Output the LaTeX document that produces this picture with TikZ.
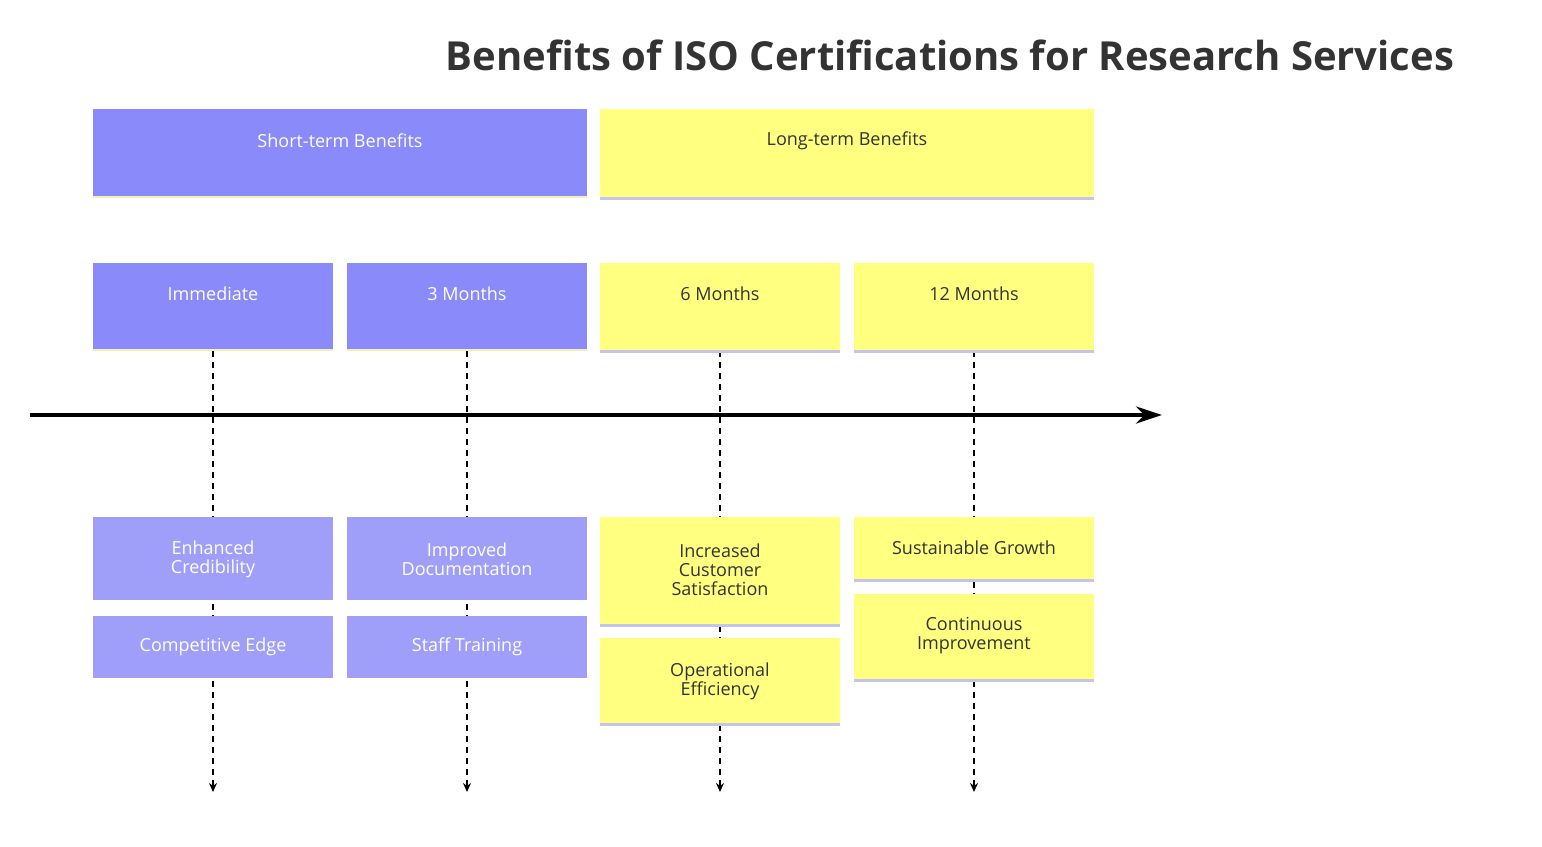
\documentclass[tikz,border=0pt]{standalone}
\usepackage{fontspec}
\setmainfont{Open Sans}
\usetikzlibrary{arrows.meta}
\definecolor{bA}{HTML}{8A8AFB}
\definecolor{bB}{HTML}{9F9FFA}
\definecolor{yA}{HTML}{FFFF80}
\definecolor{lineY}{HTML}{F4F0B0}
\definecolor{lineB}{HTML}{C4C4EC}
\definecolor{ttl}{HTML}{333333}
\tikzset{
  blu/.style={fill=bA,draw=none},
  blu2/.style={fill=bB,draw=none},
  yel/.style={fill=yA,draw=none},
  lbl/.style={font=\fontsize{18}{22}\selectfont,align=center,inner sep=0},
  wl/.style={lbl,text=white},
  dl/.style={lbl,text=ttl},
  vdash/.style={line width=1.6pt,dash pattern=on 6pt off 5pt},
}
\begin{document}
\begin{tikzpicture}[x=1pt,y=-1pt]
\path[fill=white] (0,0) rectangle (1542,846);
\useasboundingbox (0,0) rectangle (1542,846);
\node[font=\fontsize{40}{46}\selectfont\bfseries,text=ttl] (title) at (950,55) {Benefits of ISO Certifications for Research Services};
% dashed verticals
\foreach \n/\x in {a/213,b/467,c/720,d/974}{
  \coordinate (top\n) at (\x,351);
  \coordinate (end\n) at (\x,792);
  \draw[vdash,-{Stealth[length=9pt,width=8pt]}] (top\n) -- (end\n);
}
% axis
\coordinate (axs) at (30,415);
\coordinate (axe) at (1162,415);
\draw[line width=3.5pt,-{Stealth[length=26pt,width=17pt]}] (axs) -- (axe);
% header row
\path[blu] (93,109) rectangle (587,197);
\draw[lineY,line width=1.5pt] (93,197) -- (587,197);
\node[wl] (st) at (340,141) {Short-term Benefits};
\path[yel] (600,109) rectangle (1094,197);
\draw[lineB,line width=3pt] (600,198.5) -- (1094,198.5);
\node[dl] (lt) at (847,141) {Long-term Benefits};
% row 2
\foreach \x/\t in {93/Immediate,347/3 Months}{
  \path[blu] (\x,263) rectangle (\x+240,350);
  \draw[lineY,line width=1.5pt] (\x,350) -- (\x+240,350);
  \node[wl] (h\x) at (\x+120,294) {\t};}
\foreach \x/\t in {600/6 Months,854/12 Months}{
  \path[yel] (\x,263) rectangle (\x+240,350);
  \draw[lineB,line width=3pt] (\x,351.5) -- (\x+240,351.5);
  \node[dl] (h\x) at (\x+120,294) {\t};}
% lower blue
\path[blu2] (93,517) rectangle (333,600);
\node[wl] (ec) at (213,559) {Enhanced\\[-3pt]Credibility};
\path[blu2] (93,616) rectangle (333,678);
\node[wl] (ce) at (213,647) {Competitive Edge};
\path[blu2] (347,517) rectangle (587,600);
\node[wl] (id) at (467,559) {Improved\\[-3pt]Documentation};
\path[blu2] (347,616) rectangle (587,678);
\node[wl] (stt) at (467,647) {Staff Training};
% lower yellow
\path[yel] (600,517) rectangle (840,624);
\draw[lineB,line width=3pt] (600,625.5) -- (840,625.5);
\node[dl] (ics) at (720,570) {Increased\\[-3pt]Customer\\[-3pt]Satisfaction};
\path[yel] (600,638) rectangle (840,723);
\draw[lineB,line width=3pt] (600,724.5) -- (840,724.5);
\node[dl] (oe) at (720,681) {Operational\\[-3pt]Efficiency};
\path[yel] (854,517) rectangle (1094,579);
\draw[lineB,line width=3pt] (854,580.5) -- (1094,580.5);
\node[dl] (sg) at (974,548) {Sustainable Growth};
\path[yel] (854,594) rectangle (1094,679);
\draw[lineB,line width=3pt] (854,680.5) -- (1094,680.5);
\node[dl] (ci) at (974,636) {Continuous\\[-3pt]Improvement};
\end{tikzpicture}
\end{document}
